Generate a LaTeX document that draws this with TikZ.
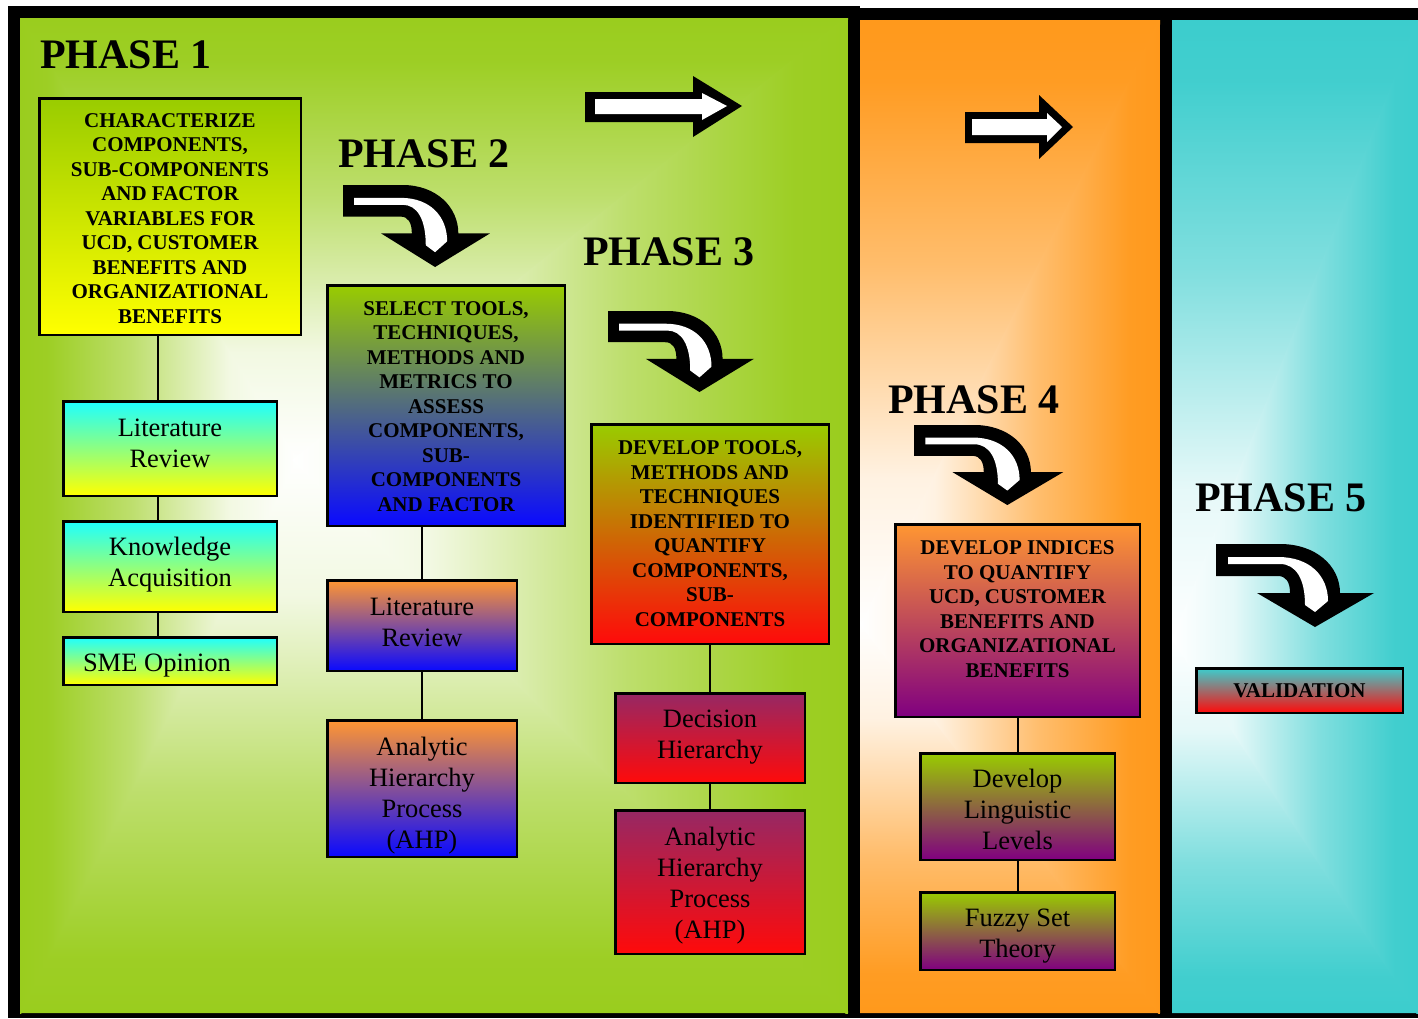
\documentclass[tikz,border=0pt]{standalone}
\usepackage{fontspec}
\setmainfont{Liberation Serif}
\usetikzlibrary{shadings}

\definecolor{pgreen}{RGB}{154,205,30}
\definecolor{porange}{RGB}{255,153,28}
\definecolor{pteal}{RGB}{60,205,205}
\definecolor{bxgreen}{RGB}{153,204,0}
\definecolor{bxyellow}{RGB}{255,255,0}
\definecolor{bxcyan}{RGB}{30,255,255}
\definecolor{bxpale}{RGB}{200,252,205}
\definecolor{bxblue}{RGB}{10,10,255}
\definecolor{bxslate}{RGB}{110,148,170}
\definecolor{bxorange}{RGB}{255,150,50}
\definecolor{bxamber}{RGB}{225,115,10}
\definecolor{bxred}{RGB}{255,10,10}
\definecolor{bxmaroon}{RGB}{150,40,100}
\definecolor{bxpurple}{RGB}{128,0,128}
\definecolor{bxrose}{RGB}{208,145,145}

% colours of the current panel glow
\newcommand\setglow[1]{%
  \colorlet{glowc}{#1}%
  \colorlet{glowa}{#1!97!white}%
  \colorlet{glowb}{#1!65!white}%
  \colorlet{glowd}{#1!13!white}}
\setglow{pgreen}

% edge colour on the left / right / top / bottom, white towards the centre
\pgfdeclarehorizontalshading[glowc,glowa,glowb,glowd]{glowL}{100bp}{color(0bp)=(glowc); color(25bp)=(glowc); color(30bp)=(glowa); color(45bp)=(glowb); color(62.5bp)=(glowd); color(75bp)=(white); color(100bp)=(white)}
\pgfdeclarehorizontalshading[glowc,glowa,glowb,glowd]{glowR}{100bp}{color(0bp)=(white); color(25bp)=(white); color(37.5bp)=(glowd); color(55bp)=(glowb); color(70bp)=(glowa); color(75bp)=(glowc); color(100bp)=(glowc)}
\pgfdeclareverticalshading[glowc,glowa,glowb,glowd]{glowB}{100bp}{color(0bp)=(glowc); color(25bp)=(glowc); color(30bp)=(glowa); color(45bp)=(glowb); color(62.5bp)=(glowd); color(75bp)=(white); color(100bp)=(white)}
\pgfdeclareverticalshading[glowc,glowa,glowb,glowd]{glowT}{100bp}{color(0bp)=(white); color(25bp)=(white); color(37.5bp)=(glowd); color(55bp)=(glowb); color(70bp)=(glowa); color(75bp)=(glowc); color(100bp)=(glowc)}

% rectangular glow: white at (cx,cy), fading to the panel colour at its edges
% #1 x1, #2 y1, #3 x2, #4 y2, #5 cx, #6 cy, #7 colour
\newcommand\panelglow[7]{%
  \setglow{#7}%
  \begin{scope}
    \clip (#1,#2) rectangle (#3,#4);
    \fill[glowc] (#1,#2) rectangle (#3,#4);
    \shade[shading=glowT] (#1-3,#2) -- (#5,#6+3) -- (#3+3,#2) -- cycle;
    \shade[shading=glowB] (#1-3,#4) -- (#5,#6-3) -- (#3+3,#4) -- cycle;
    \shade[shading=glowL] (#1,#2-3) -- (#5+3,#6) -- (#1,#4+3) -- cycle;
    \shade[shading=glowR] (#3,#2-3) -- (#5-3,#6) -- (#3,#4+3) -- cycle;
  \end{scope}}
% the same glow with its centre on the left edge of the panel
% #1 x1, #2 y1, #3 x2, #4 y2, #5 cy, #6 colour
\newcommand\edgeglow[6]{%
  \setglow{#6}%
  \begin{scope}
    \clip (#1,#2) rectangle (#3,#4);
    \fill[glowc] (#1,#2) rectangle (#3,#4);
    \shade[shading=glowT] (#1-3,#2) -- (#1-3,#5+5) -- (#1,#5+5) -- (#3+3,#2) -- cycle;
    \shade[shading=glowB] (#1-3,#4) -- (#1-3,#5-5) -- (#1,#5-5) -- (#3+3,#4) -- cycle;
    \shade[shading=glowR] (#3,#2-3) -- (#1,#5) -- (#3,#4+3) -- cycle;
  \end{scope}}

\tikzset{
  box/.style={rectangle, draw=black, line width=2.5pt, inner sep=0pt},
  grad/.style 2 args={top color=#1, bottom color=#2},
  grad3/.style n args={3}{top color=#1, middle color=#2, bottom color=#3},
  btext/.style={font=\fontsize{21}{24.5}\selectfont\bfseries, align=center, inner sep=0pt},
  rtext/.style={font=\fontsize{26.5}{31}\selectfont, align=center, inner sep=0pt},
  phase/.style={font=\fontsize{42}{50}\selectfont\bfseries, anchor=base west, inner sep=0pt},
  conn/.style={draw=black, line width=2pt},
  bendarrow/.pic={
    \fill[black] (0,0) -- (64,0) .. controls (100,0) and (124,22) .. (124,49)
      -- (158,49) -- (99,83) -- (41,49) -- (74,49)
      .. controls (74,38) and (70,32) .. (62,32) -- (0,32) -- cycle;
    \fill[white] (12,13) -- (62,13) .. controls (94,13) and (112,32) .. (112,57)
      -- (99,68) -- (89,61) .. controls (89,35) and (80,20) .. (64,20) -- (12,20) -- cycle;
  }
}

\begin{document}
\begin{tikzpicture}[x=1pt, y=-1pt]
\useasboundingbox (0,0) rectangle (1418,1018);

% black frame behind the three phase panels
\fill[black] (8,6) rectangle (860,1018);
\fill[black] (848,8) rectangle (1418,1018);

% panel backgrounds
\panelglow{20}{18}{848}{1013}{295}{460}{pgreen}
\edgeglow{860}{20}{1160}{1013}{625}{porange}
\edgeglow{1172}{20}{1418}{1013}{640}{pteal}

% phase titles
\node[phase] (ph1) at (40,68) {PHASE 1};
\node[phase] (ph2) at (338,167) {PHASE 2};
\node[phase] (ph3) at (583,265) {PHASE 3};
\node[phase] (ph4) at (888,413) {PHASE 4};
\node[phase] (ph5) at (1195,511) {PHASE 5};

% straight block arrows
\fill[black] (585,92) -- (693,92) -- (693,76) -- (742,106) -- (693,137) -- (693,122) -- (585,122) -- cycle;
\fill[white] (595,99) -- (702,99) -- (702,93) -- (727,106) -- (702,120) -- (702,114) -- (595,114) -- cycle;
\fill[black] (965,112) -- (1039,112) -- (1039,95) -- (1073,127) -- (1039,159) -- (1039,143) -- (965,143) -- cycle;
\fill[white] (972,119) -- (1047,119) -- (1047,113) -- (1062,127) -- (1047,142) -- (1047,135) -- (972,135) -- cycle;

% bent block arrows
\begin{scope}[shift={(343,185)}, xscale=0.93, yscale=0.988] \pic[transform shape] {bendarrow}; \end{scope}
\begin{scope}[shift={(608,311)}, xscale=0.924, yscale=0.976] \pic[transform shape] {bendarrow}; \end{scope}
\begin{scope}[shift={(914,425)}, xscale=0.943, yscale=0.964] \pic[transform shape] {bendarrow}; \end{scope}
\begin{scope}[shift={(1216,544)}] \pic[transform shape] {bendarrow}; \end{scope}

% phase 1
\coordinate (l1) at (158,0);
\node[box, grad={bxgreen}{bxyellow}, minimum width=261.5, minimum height=236.5] (b1) at (170,216.5) {};
\node[box, grad3={bxcyan}{bxpale}{bxyellow}, minimum width=213.5, minimum height=94.5] (lr1) at (170,448.5) {};
\node[box, grad3={bxcyan}{bxpale}{bxyellow}, minimum width=213.5, minimum height=90.5] (ka) at (170,566.5) {};
\node[box, grad3={bxcyan}{bxpale}{bxyellow}, minimum width=213.5, minimum height=47.5] (sme) at (170,661) {};
\draw[conn] (b1.south -| l1) -- (lr1.north -| l1);
\draw[conn] (lr1.south -| l1) -- (ka.north -| l1);
\draw[conn] (ka.south -| l1) -- (sme.north -| l1);
\node[btext] (b1t) at (170,218.5) {CHARACTERIZE\\COMPONENTS,\\SUB-COMPONENTS\\AND FACTOR\\VARIABLES FOR\\UCD, CUSTOMER\\BENEFITS AND\\ORGANIZATIONAL\\BENEFITS};
\node[rtext] (lr1t) at (170,443.5) {Literature\\Review};
\node[rtext] (kat) at (170,565) {Knowledge\\Acquisition};
\node[rtext] (smet) at (157,666) {SME Opinion};

% phase 2
\node[box, grad3={bxgreen}{bxslate}{bxblue}, minimum width=237.5, minimum height=240.5] (b2) at (446,405.5) {};
\node[box, grad={bxorange}{bxblue}, minimum width=189.5, minimum height=90.5] (lr2) at (422,625.5) {};
\node[box, grad={bxorange}{bxblue}, minimum width=189.5, minimum height=136.5] (ahp1) at (422,788.5) {};
\draw[conn] (b2.south -| lr2) -- (lr2.north);
\draw[conn] (lr2.south) -- (ahp1.north);
\node[btext] (b2t) at (446,406.5) {SELECT TOOLS,\\TECHNIQUES,\\METHODS AND\\METRICS TO\\ASSESS\\COMPONENTS,\\SUB-\\COMPONENTS\\AND FACTOR};
\node[rtext] (lr2t) at (422,622.5) {Literature\\Review};
\node[rtext] (ahp1t) at (422,795.5) {Analytic\\Hierarchy\\Process\\(AHP)};

% phase 3
\node[box, grad3={bxgreen}{bxamber}{bxred}, minimum width=237.5, minimum height=219.5] (b3) at (710,534) {};
\node[box, grad={bxmaroon}{bxred}, minimum width=189.5, minimum height=89.5] (dh) at (710,738) {};
\node[box, grad={bxmaroon}{bxred}, minimum width=189.5, minimum height=143.5] (ahp2) at (710,882) {};
\draw[conn] (b3.south) -- (dh.north);
\draw[conn] (dh.south) -- (ahp2.north);
\node[btext] (b3t) at (710,533.5) {DEVELOP TOOLS,\\METHODS AND\\TECHNIQUES\\IDENTIFIED TO\\QUANTIFY\\COMPONENTS,\\SUB-\\COMPONENTS};
\node[rtext] (dht) at (710,737) {Decision\\Hierarchy};
\node[rtext] (ahp2t) at (710,885.5) {Analytic\\Hierarchy\\Process\\(AHP)};

% phase 4
\node[box, grad={bxorange}{bxpurple}, minimum width=244.5, minimum height=192.5] (b4) at (1017.5,620.5) {};
\node[box, grad={bxgreen}{bxpurple}, minimum width=194.5, minimum height=106.5] (dl) at (1017.5,806.5) {};
\node[box, grad={bxgreen}{bxpurple}, minimum width=194.5, minimum height=77.5] (fs) at (1017.5,931) {};
\draw[conn] (b4.south) -- (dl.north);
\draw[conn] (dl.south) -- (fs.north);
\node[btext] (b4t) at (1017.5,609) {DEVELOP INDICES\\TO QUANTIFY\\UCD, CUSTOMER\\BENEFITS AND\\ORGANIZATIONAL\\BENEFITS};
\node[rtext] (dlt) at (1017.5,809) {Develop\\Linguistic\\Levels};
\node[rtext] (fst) at (1017.5,936.5) {Fuzzy Set\\Theory};

% phase 5
\node[box, grad3={pteal}{bxrose}{bxred}, minimum width=206.5, minimum height=44.5] (val) at (1299.5,690.5) {};
\node[btext] (valt) at (1299.5,691) {VALIDATION};

\end{tikzpicture}
\end{document}
